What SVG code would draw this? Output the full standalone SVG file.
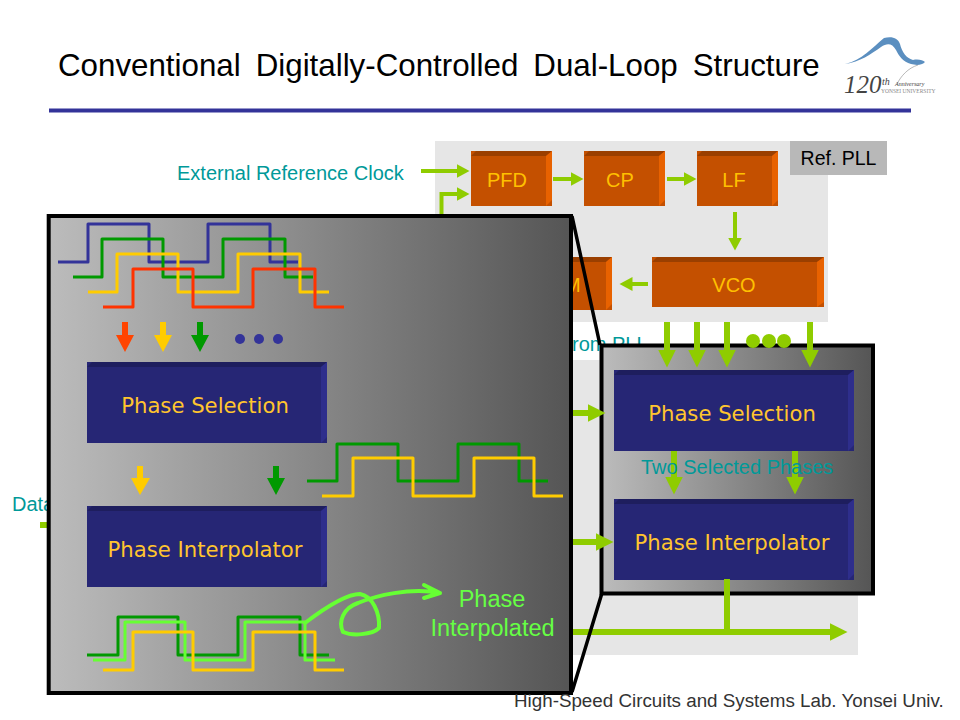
<svg xmlns="http://www.w3.org/2000/svg" width="960" height="720" viewBox="0 0 960 720">
<style>
text{font-family:"Liberation Sans",Arial,sans-serif}
.teal{fill:#009999;font-size:20px}
.pt{fill:#ffc000;font-size:20px;text-anchor:middle}
.nt{fill:#ffc52e;font-family:"DejaVu Sans",Verdana,sans-serif;font-size:21.200px;text-anchor:middle}
.of{fill:#c45000}.ot{fill:#9a3f00}.os{fill:#e86200}
.nf{fill:#262675}.ntp{fill:#1e1e5e}.ns{fill:#2e2e8c}
.pan{fill:url(#g);stroke:#000;stroke-width:4}
.wave{fill:none;stroke-width:3;stroke-linejoin:round}
.blue{stroke:#333399}.grn{stroke:#009900}.yel{stroke:#ffcc00}.red{stroke:#ff3300}.lg{stroke:#66ff33}
.c4{fill:none;stroke:#8fcc00;stroke-width:4}
.c6{fill:none;stroke:#8fcc00;stroke-width:6}
.lime{fill:#8fcc00}
</style>
<defs>
<linearGradient id="g" x1="0" y1="0" x2="1" y2="0"><stop offset="0" stop-color="#bcbcbc"/><stop offset="1" stop-color="#555"/></linearGradient>
<marker id="hs" markerUnits="userSpaceOnUse" markerWidth="14" markerHeight="16" refX="0.5" refY="8" orient="auto"><path d="M0 1L13 8L0 15Z" fill="#8fcc00"/></marker>
<marker id="hl" markerUnits="userSpaceOnUse" markerWidth="19" markerHeight="20" refX="0.5" refY="10" orient="auto"><path d="M0 1L18 10L0 19Z" fill="#8fcc00"/></marker>
</defs>
<rect width="960" height="720" fill="#fff"/>
<text id="title" x="58" y="76" font-size="31.300" word-spacing="6.300" fill="#000">Conventional Digitally-Controlled Dual-Loop Structure</text>
<rect x="49" y="108.500" width="862" height="4" fill="#333399"/>
<g id="logo">
<path d="M845 64C862 60 872 48 884 38C892 36 898 38 900 44C902 52 906 58 913 60C918 59 923 60 925 62C921 66 915 65 911 64C903 62 899 56 896 50C892 43 887 43 881 47C871 54 860 62 845 64Z" fill="#5b8fc0"/>
<path d="M897 84C901 76 908 68 918 65" fill="none" stroke="#999" stroke-width="0.700"/>
<text x="844" y="93" font-size="25" font-style="italic" fill="#444" style="font-family:'Liberation Serif',serif">120</text>
<text x="882" y="85" font-size="10" font-style="italic" fill="#444" style="font-family:'Liberation Serif',serif">th</text>
<text x="895" y="86" font-size="6" font-style="italic" fill="#444" style="font-family:'Liberation Serif',serif">Anniversary</text>
<text x="881" y="93" font-size="5.500" fill="#888" style="font-family:'Liberation Serif',serif">YONSEI UNIVERSITY</text>
</g>
<rect id="panel-lower" x="435" y="360" width="423" height="295" fill="#e6e6e6"/>
<rect id="panel-ref" x="435" y="141" width="393" height="181" fill="#e6e6e6"/>
<g id="ref-label"><rect x="790" y="141" width="97" height="34" fill="#b8b8b8"/><text x="838.500" y="165" font-size="19.500" text-anchor="middle" fill="#000">Ref. PLL</text></g>
<text id="label-ext" class="teal" x="177" y="180">External Reference Clock</text>
<text id="label-data" class="teal" x="12" y="511">Data</text>
<text id="label-pll" class="teal" x="572" y="350.500">rom PLL</text>
<g id="pfd"><rect class="of" x="471" y="151" width="81" height="55"/><path class="ot" d="M471 156L476 151H552L546 156Z"/><path class="os" d="M546 156L552 151V200L546 206Z"/><text class="pt" x="507" y="187">PFD</text></g>
<g id="cp"><rect class="of" x="584" y="151" width="81" height="55"/><path class="ot" d="M584 156L589 151H665L659 156Z"/><path class="os" d="M659 156L665 151V200L659 206Z"/><text class="pt" x="620" y="187">CP</text></g>
<g id="lf"><rect class="of" x="697" y="151" width="81" height="55"/><path class="ot" d="M697 156L702 151H778L772 156Z"/><path class="os" d="M772 156L778 151V200L772 206Z"/><text class="pt" x="734" y="187">LF</text></g>
<g id="vco"><rect class="of" x="652" y="257" width="172" height="50"/><path class="ot" d="M652 262L657 257H824L817 262Z"/><path class="os" d="M817 262L824 257V302L817 307Z"/><text class="pt" x="734" y="292">VCO</text></g>
<g id="divider"><rect class="of" x="520" y="257" width="92" height="53"/><path class="ot" d="M520 262L525 257H612L606 262Z"/><path class="os" d="M606 262L612 257V304L606 310Z"/><text class="pt" x="564" y="292" style="text-anchor:start">M</text></g>
<g id="zoom-small">
<rect class="pan" x="601.500" y="345.500" width="271.500" height="248"/>
<g id="ps-small"><rect class="nf" x="614" y="370" width="240" height="81"/><path class="ntp" d="M614 375L619 370H854L848 375Z"/><path class="ns" d="M848 375L854 370V445L848 451Z"/><text class="nt" x="732" y="421">Phase Selection</text></g>
<g id="pi-small"><rect class="nf" x="614" y="499" width="240" height="81"/><path class="ntp" d="M614 504L619 499H854L848 504Z"/><path class="ns" d="M848 504L854 499V574L848 580Z"/><text class="nt" x="732" y="550">Phase Interpolator</text></g>
</g>
<g id="connectors">
<path class="c4" d="M421 171H457" marker-end="url(#hs)"/>
<path class="c4" d="M441.500 220V194H457" marker-end="url(#hs)"/>
<path class="c4" d="M553 179H571" marker-end="url(#hs)"/>
<path class="c4" d="M667 179H684" marker-end="url(#hs)"/>
<path class="c4" d="M735 212V238" marker-end="url(#hs)"/>
<path class="c4" d="M648 284H632" marker-end="url(#hs)"/>
<path class="c6" d="M667 322V350" marker-end="url(#hl)"/>
<path class="c6" d="M697 322V350" marker-end="url(#hl)"/>
<path class="c6" d="M727 322V350" marker-end="url(#hl)"/>
<path class="c6" d="M810 322V350" marker-end="url(#hl)"/>
<path class="c6" d="M570 413H588" marker-end="url(#hl)"/>
<path class="c6" d="M570 542H596" marker-end="url(#hl)"/>
<path class="c6" d="M674 451V477" marker-end="url(#hl)"/>
<path class="c6" d="M795 451V477" marker-end="url(#hl)"/>
<path class="c6" d="M727 579V632"/>
<path class="c6" d="M570 632H830" marker-end="url(#hl)"/>
<path class="c6" d="M40 525H50"/>
<circle class="lime" cx="753" cy="341" r="7"/><circle class="lime" cx="769" cy="341" r="7"/><circle class="lime" cx="784" cy="341" r="7"/>
<path d="M572 216L600 345M602 593L572 692" fill="none" stroke="#000" stroke-width="3.500"/>
</g>
<text id="label-two" class="teal" x="641" y="474">Two Selected Phases</text>
<g id="zoom-large">
<rect class="pan" x="48.700" y="216" width="522.300" height="477"/>
<path class="wave blue" d="M58 262H88V224H149V262H208V224H270V262H298"/>
<path class="wave grn" d="M73 277H102V239H163V277H223V239H285V277H313"/>
<path class="wave yel" d="M88 292H117V254H178V292H238V254H300V292H329"/>
<path class="wave red" d="M103 307H133V269H193V307H253V269H315V307H344"/>
<path fill="#ff4400" d="M122 322H128V335H134L125 352L116 335H122Z"/>
<path fill="#ffcc00" d="M160 322H166V335H172L163 352L154 335H160Z"/>
<path fill="#009900" d="M197 322H203V335H209L200 352L191 335H197Z"/>
<circle cx="240" cy="339" r="5" fill="#333399"/><circle cx="259" cy="339" r="5" fill="#333399"/><circle cx="278" cy="339" r="5" fill="#333399"/>
<g id="ps-large"><rect class="nf" x="87" y="362" width="240" height="81"/><path class="ntp" d="M87 367L92 362H327L321 367Z"/><path class="ns" d="M321 367L327 362V437L321 443Z"/><text class="nt" x="205" y="413">Phase Selection</text></g>
<path fill="#ffcc00" d="M137 466H143V478H150L140 495L131 478H137Z"/>
<path fill="#009900" d="M273 466H279V478H285L276 495L267 478H273Z"/>
<g id="pi-large"><rect class="nf" x="87" y="506" width="240" height="81"/><path class="ntp" d="M87 511L92 506H327L321 511Z"/><path class="ns" d="M321 511L327 506V581L321 587Z"/><text class="nt" x="205" y="557">Phase Interpolator</text></g>
<path class="wave grn" d="M307 481H337V444H398V481H458V444H519V481H548"/>
<path class="wave yel" d="M322 496H353V458H413V496H474V458H534V496H563"/>
<path class="wave grn" d="M87 655H118V617H178V655H238V617H300V655H329"/>
<path class="wave lg" d="M93 660H125V622H185V660H245V622H305V660H335"/>
<path class="wave yel" d="M103 670H133V632H193V670H253V632H315V670H344"/>
<path fill="none" stroke="#66ff33" stroke-width="4" stroke-linecap="round" stroke-linejoin="round" d="M305 623C322 610 345 594 360 594C372 596 380 612 379 628C372 635 352 636 343 632C338 622 343 608 358 603C375 596 410 587 440 593M424 585L440 593L424 598"/>
<text x="492" y="607" font-size="23.500" text-anchor="middle" fill="#66ff44">Phase</text>
<text x="492.500" y="636" font-size="23.500" text-anchor="middle" fill="#66ff44">Interpolated</text>
</g>
<text id="footer" x="514" y="707" font-size="18.800" fill="#333">High-Speed Circuits and Systems Lab. Yonsei Univ.</text>
</svg>
